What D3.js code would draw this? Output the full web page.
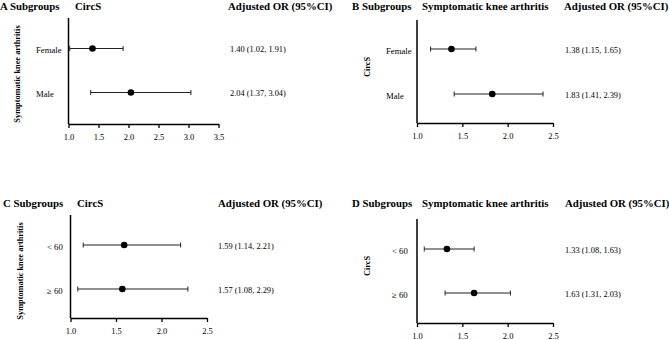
<!DOCTYPE html>
<html><head><meta charset="utf-8">
<script src="https://cdn.jsdelivr.net/npm/d3@7"></script>
<style>
html,body{margin:0;padding:0;background:#fff;}
svg{display:block;font-family:"Liberation Serif","Times New Roman",serif;}
svg text{font-family:"Liberation Serif","Times New Roman",serif;}
</style></head>
<body>
<svg id="chart" width="669" height="340"></svg>
<script>
// ---- data ----
const panelLetters = ["A", "B", "C", "D"];
const exposureTitles = ["CircS", "Symptomatic knee arthritis", "CircS", "Symptomatic knee arthritis"];
const outcomeTitles = ["Symptomatic knee arthritis", "CircS", "Symptomatic knee arthritis", "CircS"];
const sexGroups = ["Female", "Male"];
const ageGroups = ["< 60", "\u2265 60"];

const orA = [1.40, 2.04], lowA = [1.02, 1.37], highA = [1.91, 3.04];
const orB = [1.38, 1.83], lowB = [1.15, 1.41], highB = [1.65, 2.39];
const orC = [1.59, 1.57], lowC = [1.14, 1.08], highC = [2.21, 2.29];
const orD = [1.33, 1.63], lowD = [1.08, 1.31], highD = [1.63, 2.03];

const ticksA = [1.0, 1.5, 2.0, 2.5, 3.0, 3.5];
const ticksBCD = [1.0, 1.5, 2.0, 2.5];

// ---- layout (positions only) ----
const layouts = [
  {tx: 0, ty: 10, exX: 75, adjX: 228, ax0: 68.5, ax1: 218.5, top: 18, bottom: 124, rows: [48.5, 92.5], labX: 36, valX: 230, yTitleX: 17, yTitleY: 74, grp: sexGroups, or: orA, lo: lowA, hi: highA, ticks: ticksA},
  {tx: 352, ty: 10, exX: 422, adjX: 564, ax0: 417, ax1: 553, top: 20, bottom: 123, rows: [49, 94], labX: 386, valX: 565, yTitleX: 367, yTitleY: 67, grp: sexGroups, or: orB, lo: lowB, hi: highB, ticks: ticksBCD},
  {tx: 3, ty: 207, exX: 77, adjX: 218, ax0: 70.5, ax1: 207, top: 215, bottom: 318, rows: [245, 289], labX: 47, valX: 218, yTitleX: 20, yTitleY: 271, grp: ageGroups, or: orC, lo: lowC, hi: highC, ticks: ticksBCD},
  {tx: 352, ty: 207, exX: 422, adjX: 565, ax0: 417, ax1: 553, top: 219, bottom: 323, rows: [249, 293], labX: 392, valX: 565, yTitleX: 367, yTitleY: 266, grp: ageGroups, or: orD, lo: lowD, hi: highD, ticks: ticksBCD}
];

const svg = d3.select("#chart");
const fmt = d3.format(".2f");
const TITLE_SIZE = 10.8;

layouts.forEach((L, i) => {
  const g = svg.append("g");
  const x = d3.scaleLinear().domain([L.ticks[0], L.ticks[L.ticks.length - 1]]).range([L.ax0, L.ax1]);
  const y = d3.scalePoint().domain(L.grp).range(L.rows);

  // titles
  g.append("text").attr("x", L.tx).attr("y", L.ty).attr("font-weight", "bold").attr("font-size", TITLE_SIZE)
    .text(panelLetters[i] + " Subgroups");
  g.append("text").attr("x", L.exX).attr("y", L.ty).attr("font-weight", "bold").attr("font-size", TITLE_SIZE)
    .text(exposureTitles[i]);
  g.append("text").attr("x", L.adjX).attr("y", L.ty).attr("font-weight", "bold").attr("font-size", TITLE_SIZE)
    .text("Adjusted OR (95%CI)");

  // y axis title (rotated)
  g.append("text").attr("transform", `translate(${L.yTitleX},${L.yTitleY}) rotate(-90)`)
    .attr("text-anchor", "middle").attr("dominant-baseline", "central")
    .attr("font-weight", "bold").attr("font-size", 8.3).text(outcomeTitles[i]);

  // y axis line
  g.append("line").attr("x1", L.ax0).attr("x2", L.ax0).attr("y1", L.top).attr("y2", L.bottom)
    .attr("stroke", "#000").attr("stroke-width", 1.5);

  // x axis
  const xa = g.append("g").attr("transform", `translate(0,${L.bottom})`)
    .call(d3.axisBottom(x).tickValues(L.ticks).tickFormat(d3.format(".1f")).tickSize(4).tickSizeOuter(0));
  xa.attr("font-family", null);
  xa.select(".domain").attr("stroke", "#000").attr("stroke-width", 1.5);
  xa.selectAll(".tick line").attr("stroke", "#000").attr("stroke-width", 1.3);
  xa.selectAll(".tick text").attr("font-size", 8.5).attr("fill", "#000").attr("dy", "1.05em");

  // row labels
  g.selectAll(".rl").data(L.grp).enter().append("text")
    .attr("x", L.labX).attr("y", d => y(d) + 1.5)
    .attr("dominant-baseline", "central").attr("font-size", 8.7).text(d => d);

  // error bars
  const idx = d3.range(L.grp.length);
  g.selectAll(".ci").data(idx).enter().append("line")
    .attr("x1", j => x(L.lo[j])).attr("x2", j => x(L.hi[j]))
    .attr("y1", j => y(L.grp[j])).attr("y2", j => y(L.grp[j]))
    .attr("stroke", "#222").attr("stroke-width", 1);
  idx.forEach(j => {
    [L.lo[j], L.hi[j]].forEach(v => {
      g.append("line").attr("x1", x(v)).attr("x2", x(v))
        .attr("y1", y(L.grp[j]) - 2.5).attr("y2", y(L.grp[j]) + 2.5)
        .attr("stroke", "#222").attr("stroke-width", 1);
    });
  });
  g.selectAll(".pt").data(idx).enter().append("circle")
    .attr("cx", j => x(L.or[j])).attr("cy", j => y(L.grp[j])).attr("r", 3.3).attr("fill", "#000");

  // values text
  g.selectAll(".val").data(idx).enter().append("text")
    .attr("x", L.valX).attr("y", j => y(L.grp[j]) + 1).attr("dominant-baseline", "central")
    .attr("font-size", 8.4)
    .text(j => `${fmt(L.or[j])} (${fmt(L.lo[j])}, ${fmt(L.hi[j])})`);
});
</script>
</body></html>
